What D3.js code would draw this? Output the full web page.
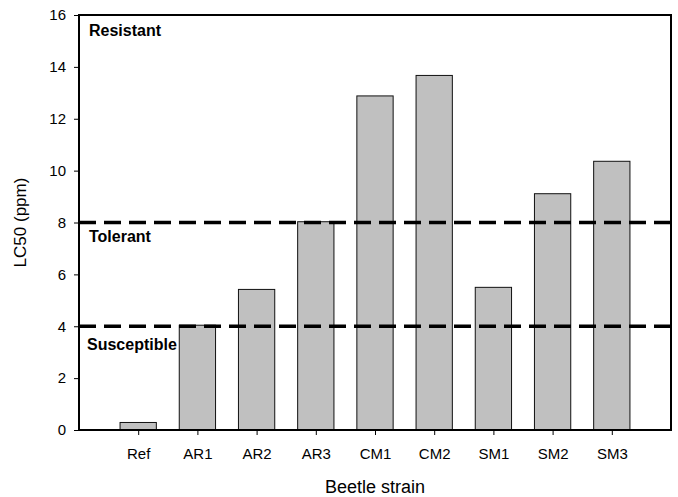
<!DOCTYPE html>
<html>
<head>
<meta charset="utf-8">
<script src="https://cdn.jsdelivr.net/npm/d3@7/dist/d3.min.js"></script>
<style>
  html, body { margin: 0; padding: 0; background: #fff; }
  svg { display: block; font-family: "Liberation Sans", Arial, Helvetica, sans-serif; }
</style>
</head>
<body>
<svg id="chart" width="678" height="497"></svg>
<script>
// LC50 by beetle strain
const strains = ["Ref", "AR1", "AR2", "AR3", "CM1", "CM2", "SM1", "SM2", "SM3"];
const lc50 = [0.29, 4.04, 5.42, 8.03, 12.88, 13.67, 5.5, 9.11, 10.36];
const yTicks = [0, 2, 4, 6, 8, 10, 12, 14, 16];
const thresholds = [4, 8];
const zoneLabels = ["Resistant", "Tolerant", "Susceptible"];
const zoneLabelValues = [15.2, 7.25, 3.1];

const svg = d3.select("#chart");
const plotL = 79, plotR = 671, plotT = 15, plotB = 430;

const x = d3.scalePoint().domain(strains).range([plotL, plotR]).padding(1);
const y = d3.scaleLinear().domain([0, 16]).range([plotB, plotT]);
const barW = x.step() * 0.613;

// bars
svg.append("g").selectAll("rect")
  .data(strains)
  .join("rect")
  .attr("x", (d) => x(d) - barW / 2)
  .attr("y", (d, i) => y(lc50[i]))
  .attr("width", barW)
  .attr("height", (d, i) => y(0) - y(lc50[i]))
  .attr("fill", "#c0c0c0")
  .attr("stroke", "#111")
  .attr("stroke-width", 1);

// threshold lines between susceptibility classes
svg.append("g").selectAll("line")
  .data(thresholds)
  .join("line")
  .attr("x1", plotL).attr("x2", plotR)
  .attr("y1", (d) => y(d)).attr("y2", (d) => y(d))
  .attr("stroke", "#000")
  .attr("stroke-width", 3.5)
  .attr("stroke-dasharray", "17,8");

// class labels
svg.append("g").selectAll("text")
  .data(zoneLabels)
  .join("text")
  .attr("x", (d, i) => i === 2 ? 87 : 89)
  .attr("y", (d, i) => y(zoneLabelValues[i]))
  .attr("font-size", 16)
  .attr("font-weight", "bold")
  .attr("fill", "#000")
  .text((d) => d);

// y axis
const yAxis = svg.append("g")
  .attr("transform", `translate(${plotL},0)`)
  .call(d3.axisLeft(y).tickValues(yTicks).tickSize(5).tickPadding(8).tickFormat(d3.format("d")));
yAxis.select(".domain").remove();
yAxis.selectAll("text").attr("font-size", 15).attr("fill", "#000").attr("font-family", null);
yAxis.selectAll("line").attr("stroke", "#000");

// x axis
const xAxis = svg.append("g")
  .attr("transform", `translate(0,${plotB})`)
  .call(d3.axisBottom(x).tickSize(5).tickPadding(13));
xAxis.select(".domain").remove();
xAxis.selectAll("text").attr("font-size", 15).attr("fill", "#000").attr("font-family", null);
xAxis.selectAll("line").attr("stroke", "#000");

// frame
svg.append("rect")
  .attr("x", plotL).attr("y", plotT)
  .attr("width", plotR - plotL).attr("height", plotB - plotT)
  .attr("fill", "none")
  .attr("stroke", "#000")
  .attr("stroke-width", 2);

// axis titles
svg.append("text")
  .attr("x", (plotL + plotR) / 2)
  .attr("y", 493)
  .attr("text-anchor", "middle")
  .attr("font-size", 18)
  .text("Beetle strain");

svg.append("text")
  .attr("transform", `translate(26,${(plotT + plotB) / 2}) rotate(-90)`)
  .attr("text-anchor", "middle")
  .attr("font-size", 17)
  .text("LC50 (ppm)");
</script>
</body>
</html>
